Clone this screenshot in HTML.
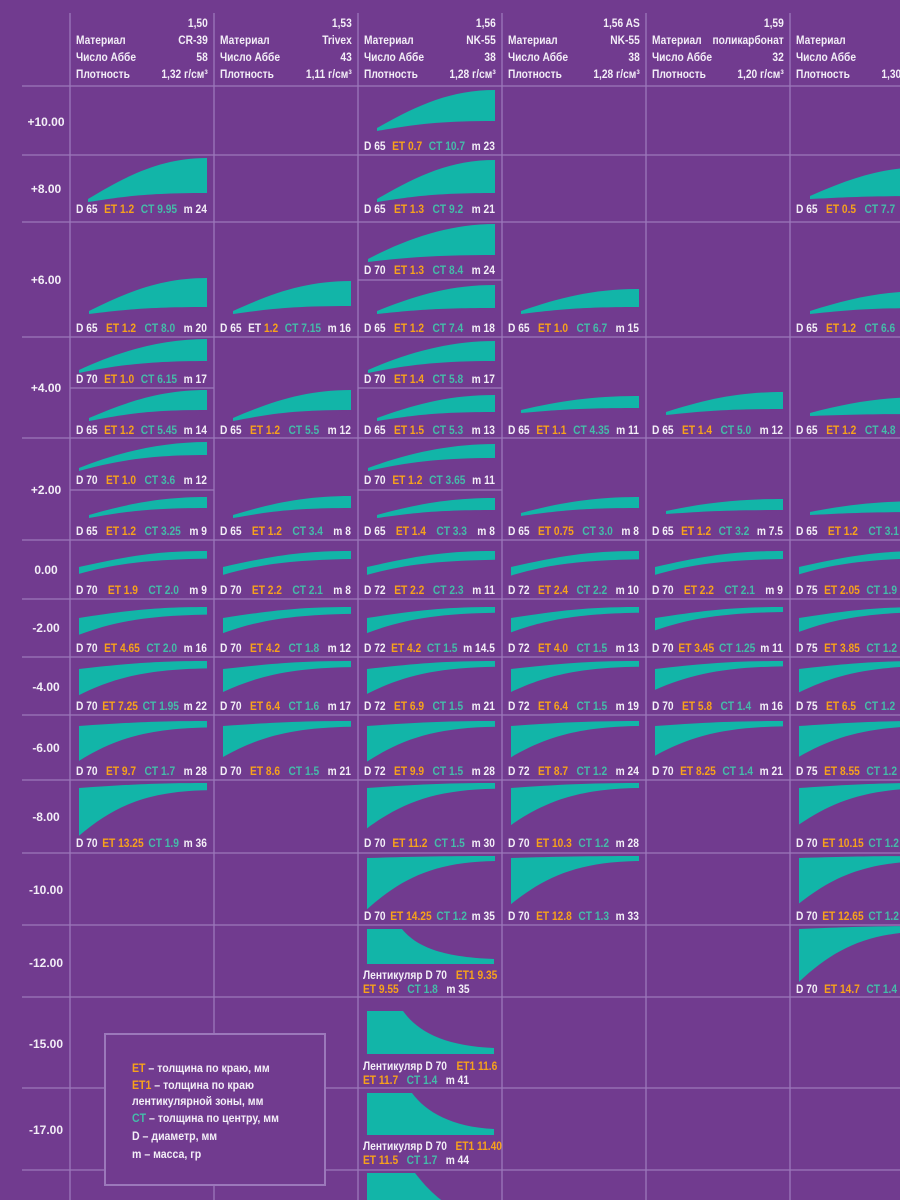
<!DOCTYPE html>
<html><head><meta charset="utf-8">
<style>
html,body{margin:0;padding:0}
body{width:900px;height:1200px;overflow:hidden;background:#713b8f;position:relative;font-family:"Liberation Sans Narrow","Liberation Sans",sans-serif;color:#f3eef7}
svg{position:absolute;left:0;top:0}
.l{position:absolute;width:154px;height:14px;line-height:14px;display:flex;justify-content:space-between;font-weight:bold;font-size:12px;white-space:nowrap;transform:scaleX(.85);transform-origin:0 0}
.o{color:#f7a21b}.t{color:#45bba9}
.h{position:absolute;width:155px;font-weight:bold;font-size:12px;line-height:17px;transform:scaleX(.85);transform-origin:0 0}
.h div{display:flex;justify-content:space-between;height:17px}
.r{position:absolute;left:12px;width:68px;text-align:center;font-weight:bold;font-size:12px;line-height:14px}
.len{position:absolute;left:363px;width:158px;font-weight:bold;font-size:12px;line-height:14px;white-space:nowrap;transform:scaleX(.85);transform-origin:0 0}
.len div{display:flex;gap:10px}
.len div.a{justify-content:space-between}
.lg{position:absolute;left:104px;top:1033px;width:222px;height:153px;border:2px solid #9c78bb;background:#713b8f;box-sizing:border-box}
.lg p{margin:0;position:absolute;left:26px;font-weight:bold;font-size:12px;line-height:16px;white-space:nowrap;transform:scaleX(.88);transform-origin:0 0}
</style></head><body>
<svg id="s" width="900" height="1200"></svg>

<div class="h" style="left:76px;top:15px"><div><span></span><span>1,50</span></div><div><span>Материал</span><span>CR-39</span></div><div><span>Число Аббе</span><span>58</span></div><div><span>Плотность</span><span>1,32 г/см³</span></div></div>
<div class="h" style="left:220px;top:15px"><div><span></span><span>1,53</span></div><div><span>Материал</span><span>Trivex</span></div><div><span>Число Аббе</span><span>43</span></div><div><span>Плотность</span><span>1,11 г/см³</span></div></div>
<div class="h" style="left:364px;top:15px"><div><span></span><span>1,56</span></div><div><span>Материал</span><span>NK-55</span></div><div><span>Число Аббе</span><span>38</span></div><div><span>Плотность</span><span>1,28 г/см³</span></div></div>
<div class="h" style="left:508px;top:15px"><div><span></span><span>1,56 AS</span></div><div><span>Материал</span><span>NK-55</span></div><div><span>Число Аббе</span><span>38</span></div><div><span>Плотность</span><span>1,28 г/см³</span></div></div>
<div class="h" style="left:652px;top:15px"><div><span></span><span>1,59</span></div><div><span>Материал</span><span>поликарбонат</span></div><div><span>Число Аббе</span><span>32</span></div><div><span>Плотность</span><span>1,20 г/см³</span></div></div>
<div class="h" style="left:796px;top:15px"><div><span></span><span>1,60</span></div><div><span>Материал</span><span>MR-8</span></div><div><span>Число Аббе</span><span>42</span></div><div><span>Плотность</span><span>1,30 г/см³</span></div></div>

<div class="r" style="top:115px">+10.00</div>
<div class="r" style="top:182px">+8.00</div>
<div class="r" style="top:273px">+6.00</div>
<div class="r" style="top:381px">+4.00</div>
<div class="r" style="top:483px">+2.00</div>
<div class="r" style="top:563px">0.00</div>
<div class="r" style="top:621px">-2.00</div>
<div class="r" style="top:680px">-4.00</div>
<div class="r" style="top:741px">-6.00</div>
<div class="r" style="top:810px">-8.00</div>
<div class="r" style="top:883px">-10.00</div>
<div class="r" style="top:956px">-12.00</div>
<div class="r" style="top:1037px">-15.00</div>
<div class="r" style="top:1123px">-17.00</div>

<div class="l" style="left:364px;top:139px"><span>D 65</span><span class="o">ET 0.7</span><span class="t">CT 10.7</span><span>m 23</span></div>
<div class="l" style="left:76px;top:202px"><span>D 65</span><span class="o">ET 1.2</span><span class="t">CT 9.95</span><span>m 24</span></div>
<div class="l" style="left:364px;top:202px"><span>D 65</span><span class="o">ET 1.3</span><span class="t">CT 9.2</span><span>m 21</span></div>
<div class="l" style="left:796px;top:202px"><span>D 65</span><span class="o">ET 0.5</span><span class="t">CT 7.7</span><span>m 19</span></div>
<div class="l" style="left:364px;top:263px"><span>D 70</span><span class="o">ET 1.3</span><span class="t">CT 8.4</span><span>m 24</span></div>
<div class="l" style="left:76px;top:321px"><span>D 65</span><span class="o">ET 1.2</span><span class="t">CT 8.0</span><span>m 20</span></div>
<div class="l" style="left:220px;top:321px"><span>D 65</span><span>ET <span class="o">1.2</span></span><span class="t">CT 7.15</span><span>m 16</span></div>
<div class="l" style="left:364px;top:321px"><span>D 65</span><span class="o">ET 1.2</span><span class="t">CT 7.4</span><span>m 18</span></div>
<div class="l" style="left:508px;top:321px"><span>D 65</span><span class="o">ET 1.0</span><span class="t">CT 6.7</span><span>m 15</span></div>
<div class="l" style="left:796px;top:321px"><span>D 65</span><span class="o">ET 1.2</span><span class="t">CT 6.6</span><span>m 15</span></div>
<div class="l" style="left:76px;top:372px"><span>D 70</span><span class="o">ET 1.0</span><span class="t">CT 6.15</span><span>m 17</span></div>
<div class="l" style="left:364px;top:372px"><span>D 70</span><span class="o">ET 1.4</span><span class="t">CT 5.8</span><span>m 17</span></div>
<div class="l" style="left:76px;top:423px"><span>D 65</span><span class="o">ET 1.2</span><span class="t">CT 5.45</span><span>m 14</span></div>
<div class="l" style="left:220px;top:423px"><span>D 65</span><span class="o">ET 1.2</span><span class="t">CT 5.5</span><span>m 12</span></div>
<div class="l" style="left:364px;top:423px"><span>D 65</span><span class="o">ET 1.5</span><span class="t">CT 5.3</span><span>m 13</span></div>
<div class="l" style="left:508px;top:423px"><span>D 65</span><span class="o">ET 1.1</span><span class="t">CT 4.35</span><span>m 11</span></div>
<div class="l" style="left:652px;top:423px"><span>D 65</span><span class="o">ET 1.4</span><span class="t">CT 5.0</span><span>m 12</span></div>
<div class="l" style="left:796px;top:423px"><span>D 65</span><span class="o">ET 1.2</span><span class="t">CT 4.8</span><span>m 11</span></div>
<div class="l" style="left:76px;top:473px"><span>D 70</span><span class="o">ET 1.0</span><span class="t">CT 3.6</span><span>m 12</span></div>
<div class="l" style="left:364px;top:473px"><span>D 70</span><span class="o">ET 1.2</span><span class="t">CT 3.65</span><span>m 11</span></div>
<div class="l" style="left:76px;top:524px"><span>D 65</span><span class="o">ET 1.2</span><span class="t">CT 3.25</span><span>m 9</span></div>
<div class="l" style="left:220px;top:524px"><span>D 65</span><span class="o">ET 1.2</span><span class="t">CT 3.4</span><span>m 8</span></div>
<div class="l" style="left:364px;top:524px"><span>D 65</span><span class="o">ET 1.4</span><span class="t">CT 3.3</span><span>m 8</span></div>
<div class="l" style="left:508px;top:524px"><span>D 65</span><span class="o">ET 0.75</span><span class="t">CT 3.0</span><span>m 8</span></div>
<div class="l" style="left:652px;top:524px"><span>D 65</span><span class="o">ET 1.2</span><span class="t">CT 3.2</span><span>m 7.5</span></div>
<div class="l" style="left:796px;top:524px"><span>D 65</span><span class="o">ET 1.2</span><span class="t">CT 3.1</span><span>m 7</span></div>
<div class="l" style="left:76px;top:583px"><span>D 70</span><span class="o">ET 1.9</span><span class="t">CT 2.0</span><span>m 9</span></div>
<div class="l" style="left:220px;top:583px"><span>D 70</span><span class="o">ET 2.2</span><span class="t">CT 2.1</span><span>m 8</span></div>
<div class="l" style="left:364px;top:583px"><span>D 72</span><span class="o">ET 2.2</span><span class="t">CT 2.3</span><span>m 11</span></div>
<div class="l" style="left:508px;top:583px"><span>D 72</span><span class="o">ET 2.4</span><span class="t">CT 2.2</span><span>m 10</span></div>
<div class="l" style="left:652px;top:583px"><span>D 70</span><span class="o">ET 2.2</span><span class="t">CT 2.1</span><span>m 9</span></div>
<div class="l" style="left:796px;top:583px"><span>D 75</span><span class="o">ET 2.05</span><span class="t">CT 1.9</span><span>m 10</span></div>
<div class="l" style="left:76px;top:641px"><span>D 70</span><span class="o">ET 4.65</span><span class="t">CT 2.0</span><span>m 16</span></div>
<div class="l" style="left:220px;top:641px"><span>D 70</span><span class="o">ET 4.2</span><span class="t">CT 1.8</span><span>m 12</span></div>
<div class="l" style="left:364px;top:641px"><span>D 72</span><span class="o">ET 4.2</span><span class="t">CT 1.5</span><span>m 14.5</span></div>
<div class="l" style="left:508px;top:641px"><span>D 72</span><span class="o">ET 4.0</span><span class="t">CT 1.5</span><span>m 13</span></div>
<div class="l" style="left:652px;top:641px"><span>D 70</span><span class="o">ET 3.45</span><span class="t">CT 1.25</span><span>m 11</span></div>
<div class="l" style="left:796px;top:641px"><span>D 75</span><span class="o">ET 3.85</span><span class="t">CT 1.2</span><span>m 13</span></div>
<div class="l" style="left:76px;top:699px"><span>D 70</span><span class="o">ET 7.25</span><span class="t">CT 1.95</span><span>m 22</span></div>
<div class="l" style="left:220px;top:699px"><span>D 70</span><span class="o">ET 6.4</span><span class="t">CT 1.6</span><span>m 17</span></div>
<div class="l" style="left:364px;top:699px"><span>D 72</span><span class="o">ET 6.9</span><span class="t">CT 1.5</span><span>m 21</span></div>
<div class="l" style="left:508px;top:699px"><span>D 72</span><span class="o">ET 6.4</span><span class="t">CT 1.5</span><span>m 19</span></div>
<div class="l" style="left:652px;top:699px"><span>D 70</span><span class="o">ET 5.8</span><span class="t">CT 1.4</span><span>m 16</span></div>
<div class="l" style="left:796px;top:699px"><span>D 75</span><span class="o">ET 6.5</span><span class="t">CT 1.2</span><span>m 19</span></div>
<div class="l" style="left:76px;top:764px"><span>D 70</span><span class="o">ET 9.7</span><span class="t">CT 1.7</span><span>m 28</span></div>
<div class="l" style="left:220px;top:764px"><span>D 70</span><span class="o">ET 8.6</span><span class="t">CT 1.5</span><span>m 21</span></div>
<div class="l" style="left:364px;top:764px"><span>D 72</span><span class="o">ET 9.9</span><span class="t">CT 1.5</span><span>m 28</span></div>
<div class="l" style="left:508px;top:764px"><span>D 72</span><span class="o">ET 8.7</span><span class="t">CT 1.2</span><span>m 24</span></div>
<div class="l" style="left:652px;top:764px"><span>D 70</span><span class="o">ET 8.25</span><span class="t">CT 1.4</span><span>m 21</span></div>
<div class="l" style="left:796px;top:764px"><span>D 75</span><span class="o">ET 8.55</span><span class="t">CT 1.2</span><span>m 25</span></div>
<div class="l" style="left:76px;top:836px"><span>D 70</span><span class="o">ET 13.25</span><span class="t">CT 1.9</span><span>m 36</span></div>
<div class="l" style="left:364px;top:836px"><span>D 70</span><span class="o">ET 11.2</span><span class="t">CT 1.5</span><span>m 30</span></div>
<div class="l" style="left:508px;top:836px"><span>D 70</span><span class="o">ET 10.3</span><span class="t">CT 1.2</span><span>m 28</span></div>
<div class="l" style="left:796px;top:836px"><span>D 70</span><span class="o">ET 10.15</span><span class="t">CT 1.2</span><span>m 28</span></div>
<div class="l" style="left:364px;top:909px"><span>D 70</span><span class="o">ET 14.25</span><span class="t">CT 1.2</span><span>m 35</span></div>
<div class="l" style="left:508px;top:909px"><span>D 70</span><span class="o">ET 12.8</span><span class="t">CT 1.3</span><span>m 33</span></div>
<div class="l" style="left:796px;top:909px"><span>D 70</span><span class="o">ET 12.65</span><span class="t">CT 1.2</span><span>m 33</span></div>
<div class="l" style="left:796px;top:982px"><span>D 70</span><span class="o">ET 14.7</span><span class="t">CT 1.4</span><span>m 38</span></div>

<div class="len" style="top:968px"><div class="a"><span>Лентикуляр D 70</span><span class="o">ET1 9.35</span></div><div><span class="o">ET 9.55</span><span class="t">CT 1.8</span><span>m 35</span></div></div>
<div class="len" style="top:1059px"><div class="a"><span>Лентикуляр D 70</span><span class="o">ET1 11.6</span></div><div><span class="o">ET 11.7</span><span class="t">CT 1.4</span><span>m 41</span></div></div>
<div class="len" style="top:1139px"><div class="a"><span>Лентикуляр D 70</span><span class="o">ET1 11.40</span></div><div><span class="o">ET 11.5</span><span class="t">CT 1.7</span><span>m 44</span></div></div>

<div class="lg">
<p style="top:25px"><span class="o">ET</span> – толщина по краю, мм</p>
<p style="top:42px"><span class="o">ET1</span> – толщина по краю</p>
<p style="top:58px">лентикулярной зоны, мм</p>
<p style="top:75px"><span class="t">CT</span> – толщина по центру, мм</p>
<p style="top:93px">D – диаметр, мм</p>
<p style="top:111px">m – масса, гр</p>
</div>

<script>
(function(){
var s=document.getElementById('s'),out='';
var LC='#9c78bb',F='#12b5a8';
var cols=[70,214,358,502,646,790];
function line(x1,y1,x2,y2){out+='<line x1="'+x1+'" y1="'+y1+'" x2="'+x2+'" y2="'+y2+'" stroke="'+LC+'" stroke-width="1.3"/>';}
cols.forEach(function(c){line(c,13,c,1200);});
[86,155,222,337,438,540,599,657,715,780,853,925,997,1088,1170].forEach(function(y){line(22,y,900,y);});
line(358,280,502,280);line(70,388,214,388);line(358,388,502,388);line(70,490,214,490);line(358,490,502,490);
function p(d){out+='<path d="'+d+'" fill="'+F+'"/>';}
function plus(L,yl,yt,yb,R){
 var h=yl-yt;
 p('M'+L+','+yl+' L'+L+','+(yl-3)+' C'+(L+40)+','+(yl-3-h*0.55)+' '+(R-45)+','+yt+' '+R+','+yt+' L'+R+','+yb+' C'+(R-60)+','+yb+' '+(L+35)+','+(yb+(yl-yb)*0.4)+' '+L+','+yl+' Z');
}
function P(ci,L,yl,yt,yb){plus(L,yl,yt,yb,cols[ci]+137);}
P(2,377,131,90,121);
P(0,88,202,158,193);P(2,377,202,160,193);P(5,810,199,167,196);
P(2,368,262,224,255);
P(0,89,314,278,307);P(1,233,314,281,306);P(2,377,314,285,308);P(3,521,314,289,307);P(5,810,314,291,308);
P(0,79,373,339,361);P(2,368,373,341,361);
P(0,89,421,390,410);P(1,233,421,390,410);P(2,377,421,395,412);P(3,521,413,396,408);P(4,666,415,392,409);P(5,810,416,397,414);
P(0,79,471,442,455);P(2,368,471,444,458);
P(0,89,518,497,508);P(1,233,518,496,508);P(2,377,518,498,510);P(3,521,516,497,508);P(4,666,514,499,510);P(5,810,515,501,512);
function M(ci,lt,rt,ET,CT){
 var L=cols[ci]+9,R=cols[ci]+137,lb=lt+3.6*ET,rb=rt+Math.max(5,3.8*CT);
 p('M'+L+','+lt+' C'+(L+50)+','+(rt+(lt-rt)*0.3)+' '+(R-50)+','+rt+' '+R+','+rt+' L'+R+','+rb+' C'+(R-60)+','+(rb+1)+' '+(L+35)+','+(rb+(lb-rb)*0.35)+' '+L+','+lb+' Z');
}
var rows={r0:[567,551],r2:[618,607],r4:[669,661],r6:[726,721],r8:[788,783],r10:[858,856],r12:[929,926]};
function R(k,arr){arr.forEach(function(a){M(a[0],rows[k][0],rows[k][1],a[1],a[2]);});}
R('r0',[[0,1.9,2.0],[1,2.2,2.1],[2,2.2,2.3],[3,2.4,2.2],[4,2.2,2.1],[5,2.05,1.9]]);
R('r2',[[0,4.65,2.0],[1,4.2,1.8],[2,4.2,1.5],[3,4.0,1.5],[4,3.45,1.25],[5,3.85,1.2]]);
R('r4',[[0,7.25,1.95],[1,6.4,1.6],[2,6.9,1.5],[3,6.4,1.5],[4,5.8,1.4],[5,6.5,1.2]]);
R('r6',[[0,9.7,1.7],[1,8.6,1.5],[2,9.9,1.5],[3,8.7,1.2],[4,8.25,1.4],[5,8.55,1.2]]);
R('r8',[[0,13.25,1.9],[2,11.2,1.5],[3,10.3,1.2],[5,10.15,1.2]]);
R('r10',[[2,14.25,1.2],[3,12.8,1.3],[5,12.65,1.2]]);
R('r12',[[5,14.7,1.4]]);
p('M367,929 L402,929 C416,946 440,957 494,959 L494,964 L367,964 Z');
p('M367,1011 L403,1011 C418,1032 445,1046 494,1048 L494,1054 L367,1054 Z');
p('M367,1093 L412,1093 C426,1112 452,1127 494,1129 L494,1135 L367,1135 Z');
p('M367,1173 L415,1173 C428,1190 440,1200 450,1206 L367,1206 Z');
s.innerHTML=out;
})();
</script>
</body></html>
